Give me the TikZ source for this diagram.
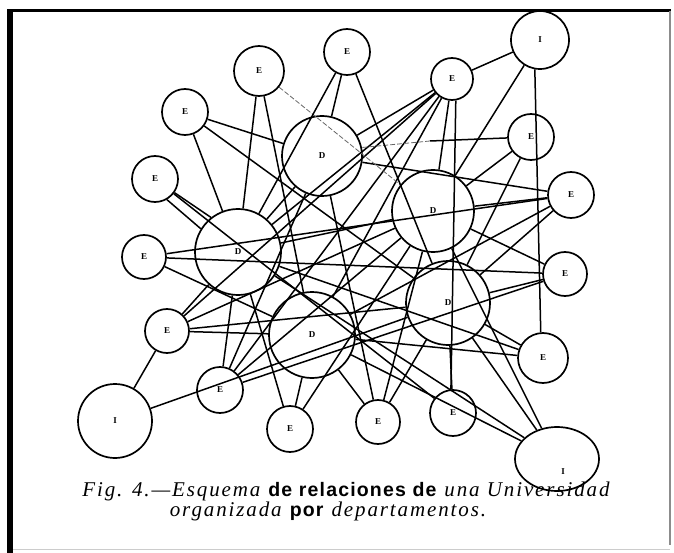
\documentclass[tikz,border=0pt]{standalone}
\usepackage{fontspec}
\setmainfont{Liberation Serif}
\newfontfamily\capserif[LetterSpace=9]{Liberation Serif}
\newfontfamily\capsans[LetterSpace=6]{Liberation Sans}
\usetikzlibrary{shapes.geometric}
\begin{document}
\begin{tikzpicture}[x=1pt,y=-1pt,
  unit/.style={circle, draw, line width=1.7pt, inner sep=0pt, font=\fontsize{9}{9}\selectfont\bfseries},
  oval/.style={ellipse, draw, line width=1.7pt, inner sep=0pt},
  link/.style={line width=1.5pt},
  faint/.style={line width=0.8pt, black!60, dash pattern=on 5pt off 2pt},
  lab/.style={font=\fontsize{9}{9}\selectfont\bfseries, inner sep=0pt}]
\useasboundingbox (0,0) rectangle (674,553);
% frame
\draw[line width=3pt] (7,11) -- (671,11);
\draw[line width=6pt] (10,9.5) -- (10,553);
\draw[black!45, line width=1.2pt] (670,11) -- (670,545);
\draw[black!20, line width=1pt] (13,549) -- (670,549);
% nodes
\node[unit, minimum size=58] (I1) at (540,40) {I};
\node[unit, minimum size=50] (E1) at (259,71) {E};
\node[unit, minimum size=46] (E2) at (347,52) {E};
\node[unit, minimum size=46] (E3) at (185,112) {E};
\node[unit, minimum size=42] (E4) at (452,79) {E};
\node[unit, minimum size=80] (D1) at (322,156) {D};
\node[unit, minimum size=46] (E5) at (531,137) {E};
\node[unit, minimum size=46] (E6) at (155,179) {E};
\node[unit, minimum size=82] (D2) at (433,211) {D};
\node[unit, minimum size=46] (E7) at (571,195) {E};
\node[unit, minimum size=44] (E8) at (144,257) {E};
\node[unit, minimum size=86] (D3) at (238,252) {D};
\node[unit, minimum size=44] (E9) at (565,274) {E};
\node[unit, minimum size=84] (D4) at (448,303) {D};
\node[unit, minimum size=44] (E10) at (167,331) {E};
\node[unit, minimum size=86] (D5) at (312,335) {D};
\node[unit, minimum size=50] (E11) at (543,358) {E};
\node[unit, minimum size=46] (E12) at (220,390) {E};
\node[unit, minimum size=74] (I2) at (115,421) {I};
\node[unit, minimum size=46] (E13) at (290,429) {E};
\node[unit, minimum size=44] (E14) at (378,422) {E};
\node[unit, minimum size=46] (E15) at (453,413) {E};
\node[oval, minimum width=84, minimum height=64] (I3) at (557,459) {};
\node[lab] (I3l) at (563,472) {I};
% links
\draw[link] (I1) -- (E4);
\draw[link] (I1) -- (D2);
\draw[link] (I1.-100) -- (E11.95);
\draw[link] (E4) -- (D2);
\draw[link] (E4.-80) -- (E15.95);
\draw[link] (E4) -- (D1);
\draw[link] (E4) -- (D3);
\draw[link] (E4) -- (E10);
\draw[link] (E4) -- (E12);
\draw[link] (E4) -- (D5);
\coordinate (m51) at (430,141);
\draw[link] (E5) -- (m51);
\draw[faint] (m51) -- (D1.12);
\draw[link] (E5) -- (D2);
\draw[link] (E5) -- (D4);
\draw[link] (E7) -- (D1);
\draw[link] (E7) -- (D2);
\draw[link] (E7) -- (D4);
\draw[link] (E7) -- (D5);
\draw[link] (E9) -- (D4);
\draw[link] (E9) -- (D2);
\draw[link] (E11) -- (D4);
\draw[link] (E11) -- (D5);
\draw[link] (I3) -- (D4);
\draw[link] (I3) -- (D2);
\draw[link] (I3) -- (D5);
\draw[link] (I3) -- (D3);
\draw[link] (E15) -- (D4);
\draw[link] (E6) -- (E15);
\draw[link] (E14) -- (D5);
\draw[link] (E14) -- (D4);
\draw[link] (E14) -- (D2);
\draw[link] (D1) -- (E14);
\draw[link] (E13) -- (D5);
\draw[link] (E13) -- (D3);
\draw[link] (E13) -- (D2);
\draw[link] (E12) -- (D3);
\draw[link] (D1) -- (E12);
\draw[link] (E12) -- (D2);
\draw[link] (E12) -- (E9);
\draw[link] (I2) -- (E10);
\draw[link] (I2) -- (D4);
\draw[link] (E10) -- (D3);
\draw[link] (E10) -- (D5);
\draw[link] (E10) -- (D4);
\draw[link] (E10) -- (D2);
\draw[link] (E8) -- (E7);
\draw[link] (E8) -- (E9);
\draw[link] (E8) -- (D5);
\draw[link] (E6.-35) -- (D3.128);
\draw[link] (E6.-60) -- (D3.148);
\draw[link] (E3) -- (D1);
\draw[link] (E3) -- (D3);
\draw[link] (E3) -- (D4);
\draw[link] (E1) -- (D3);
\draw[link] (E1) -- (D5);
\draw[faint] (E1) -- (D2);
\draw[link] (E2) -- (D1);
\draw[link] (E2) -- (D3);
\draw[link] (E2) -- (D4);
\draw[link] (D1) -- (D3);
\draw[link] (D2) -- (D3);
\draw[link] (D3) -- (E11);
% caption
\node[inner sep=0pt, anchor=base] (cap1) at (346,496) {\fontsize{21}{21}\selectfont{\capserif\itshape Fig. 4.—Esquema}\hspace{8pt}{\capsans\bfseries\fontsize{19.5}{19.5}\selectfont de relaciones de}\hspace{8pt}{\capserif\itshape una Universidad}};
\node[inner sep=0pt, anchor=base] (cap2) at (328,516) {\fontsize{21}{21}\selectfont{\capserif\itshape organizada}\hspace{8pt}{\capsans\bfseries\fontsize{19.5}{19.5}\selectfont por}\hspace{8pt}{\capserif\itshape departamentos.}};
\end{tikzpicture}
\end{document}
